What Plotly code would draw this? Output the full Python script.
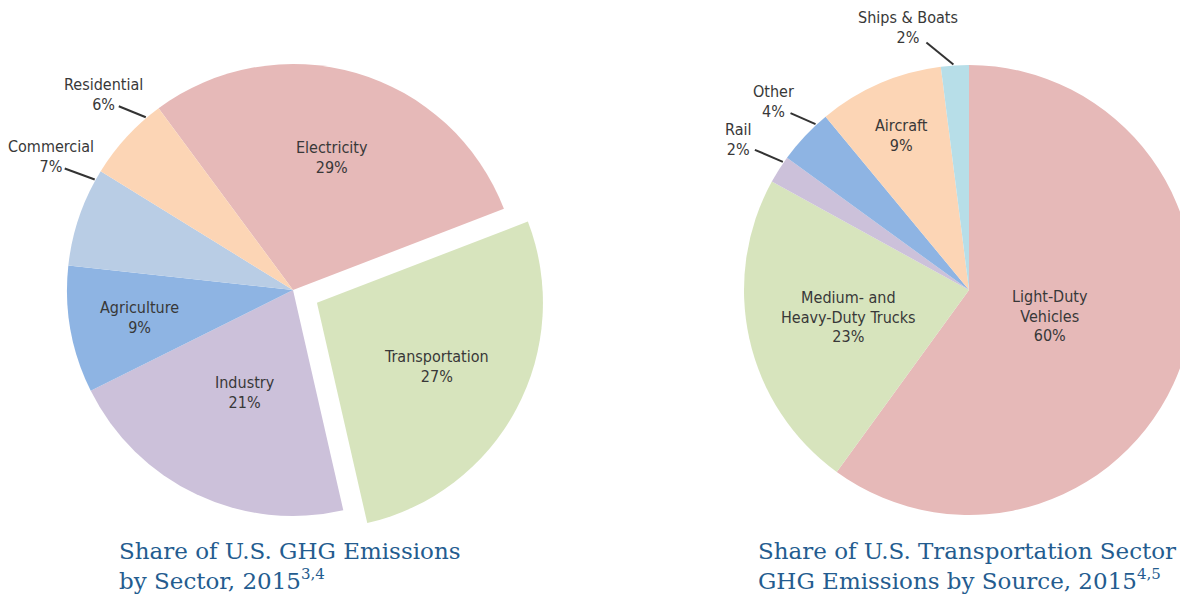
import math
import plotly.graph_objects as go

# ---------------- data ----------------
sector_labels = ["Electricity", "Transportation", "Industry", "Agriculture", "Commercial", "Residential"]
sector_values = [29, 27, 21, 9, 7, 6]
sector_colors = ["#E6B9B8", "#D7E4BD", "#CCC1DA", "#8EB4E3", "#B9CDE5", "#FCD5B5"]

source_labels = ["Light-Duty Vehicles", "Medium- and Heavy-Duty Trucks", "Rail", "Other", "Aircraft", "Ships & Boats"]
source_values = [60, 23, 2, 4, 9, 2]
source_colors = ["#E6B9B8", "#D7E4BD", "#CCC1DA", "#8EB4E3", "#FCD5B5", "#B7DEE8"]

title_left = "Share of U.S. GHG Emissions<br>by Sector, 2015<sup><span style=\"font-size:15px\">3,4</span></sup>"
title_right = "Share of U.S. Transportation Sector<br>GHG Emissions by Source, 2015<sup><span style=\"font-size:15px\">4,5</span></sup>"

# ---------------- layout geometry (screen pixels) ----------------
W, H = 1188, 603
OFF = 8  # page body margin
L_CX, L_CY, L_R = 293, 290, 226
L_ROT = -36.5
L_PULL = [0, 0.12, 0, 0, 0, 0]
R_CX, R_CY, R_R = 969, 290, 225
R_ROT = 0

# display names (line breaks) per slice
sector_disp = ["Electricity", "Transportation", "Industry", "Agriculture", "Commercial", "Residential"]
source_disp = ["Light-Duty<br>Vehicles", "Medium- and<br>Heavy-Duty Trucks", "Rail", "Other", "Aircraft", "Ships & Boats"]

# label placement style: ("in", radius_frac) or ("out", anchor_frac, line_dx, line_dy, text_dx, text_dy)
sector_place = [("in", 0.61), ("in", 0.60), ("in", 0.50), ("in", 0.69),
                ("out", 0.9, -30, -11, -14, -12), ("out", 0.82, -27, -11, -15, -12)]
source_place = [("in", 0.38), ("in", 0.55), ("out", 0.8, -28, -12, -17, -10),
                ("out", 0.78, -25, -11, -17, -12), ("in", 0.75), ("out", 0.45, -27, -22, -18, -15)]

TXT_COLOR = "#383838"
FONT = "DejaVu Sans Condensed, Liberation Sans Narrow, Arial Narrow, sans-serif"


def px2paper(x, y):
    return (x - OFF) / W, 1 - (y - OFF) / H


def polar(cx, cy, r, ang):
    a = math.radians(ang)
    return cx + r * math.sin(a), cy - r * math.cos(a)


def styled(text):
    parts = text.split("<br>")
    return "<br>".join('<span style="font-size:16px">%s</span>' % p for p in parts)


annotations = []
shapes = []


def add_labels(values, disp, place, cx, cy, r, rot, pulls):
    total = sum(values)
    start = rot
    for v, d, pl, pu in zip(values, disp, place, pulls):
        span = v / total * 360
        mid = start + span / 2
        ox, oy = polar(0, 0, pu * r, mid)
        txt = styled("%s<br>%d%%" % (d, v))
        if pl[0] == "in":
            x, y = polar(cx + ox, cy + oy, r * pl[1], mid)
            X, Y = px2paper(x, y)
            annotations.append(dict(x=X, y=Y, xref="paper", yref="paper", text=txt,
                                    showarrow=False, xanchor="center", yanchor="middle",
                                    align="center", font=dict(size=15, color=TXT_COLOR, family=FONT)))
        else:
            ang = start + span * pl[1]
            px, py = polar(cx, cy, r + 1, ang)
            qx, qy = px + pl[2], py + pl[3]
            X0, Y0 = px2paper(px, py)
            X1, Y1 = px2paper(qx, qy)
            shapes.append(dict(type="line", xref="paper", yref="paper", x0=X0, y0=Y0, x1=X1, y1=Y1,
                               line=dict(color="#333333", width=2)))
            X, Y = px2paper(qx + pl[4], qy + pl[5])
            annotations.append(dict(x=X, y=Y, xref="paper", yref="paper", text=txt,
                                    showarrow=False, xanchor="center", yanchor="middle",
                                    align="center", font=dict(size=15, color=TXT_COLOR, family=FONT)))
        start += span


fig = go.Figure()

half_l = L_R * (1 + max(L_PULL))
lx0, ly0 = px2paper(L_CX - half_l, L_CY + half_l)
lx1, ly1 = px2paper(L_CX + half_l, L_CY - half_l)
fig.add_trace(go.Pie(labels=sector_labels, values=sector_values, sort=False, direction="clockwise",
                     rotation=L_ROT, pull=L_PULL, marker=dict(colors=sector_colors, line=dict(width=0)),
                     textinfo="none", hoverinfo="label+percent", showlegend=False,
                     domain=dict(x=[lx0, lx1], y=[ly0, ly1])))

rx0, ry0 = px2paper(R_CX - R_R, R_CY + R_R)
rx1, ry1 = px2paper(R_CX + R_R, R_CY - R_R)
fig.add_trace(go.Pie(labels=source_labels, values=source_values, sort=False, direction="clockwise",
                     rotation=R_ROT, marker=dict(colors=source_colors, line=dict(width=0)),
                     textinfo="none", hoverinfo="label+percent", showlegend=False,
                     domain=dict(x=[rx0, min(rx1, 1)], y=[ry0, ry1])))

add_labels(sector_values, sector_disp, sector_place, L_CX, L_CY, L_R, L_ROT, L_PULL)
add_labels(source_values, source_disp, source_place, R_CX, R_CY, R_R, R_ROT, [0] * 6)

TITLE_FONT = dict(family="DejaVu Serif, Liberation Serif, serif", size=23, color="#245C8F")
for txt, xp in [(title_left, 117), (title_right, 756)]:
    X, Y = px2paper(xp, 566)
    annotations.append(dict(x=X, y=Y, xref="paper", yref="paper", text=txt, showarrow=False,
                            xanchor="left", yanchor="middle", align="left", font=TITLE_FONT))

fig.update_layout(width=W, height=H, margin=dict(l=0, r=0, t=0, b=0),
                  paper_bgcolor="white", plot_bgcolor="white",
                  annotations=annotations, shapes=shapes)

fig.write_html("out.html")
